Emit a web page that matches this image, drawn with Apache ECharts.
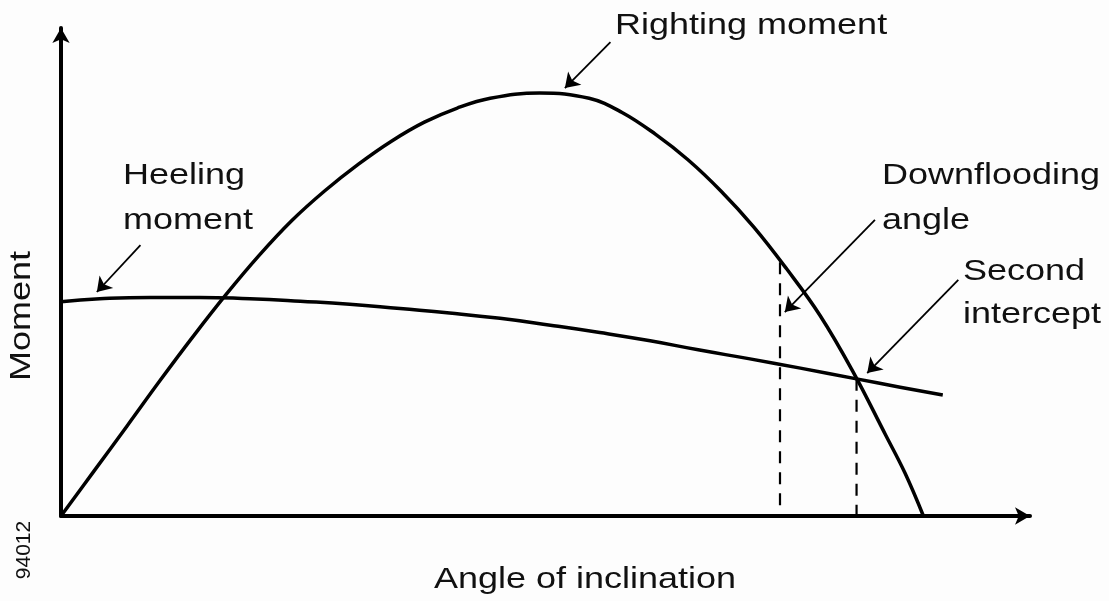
<!DOCTYPE html>
<html>
<head>
<meta charset="utf-8">
<script src="https://cdn.jsdelivr.net/npm/echarts@6/dist/echarts.min.js"></script>
<style>
  html, body { margin: 0; padding: 0; background: #fdfdfd; }
  #main { width: 1109px; height: 601px; }
</style>
</head>
<body>
<div id="main"></div>
<script>
// angle of inclination (x) and moment (y), arbitrary units
var rightingAngle  = [0, 3.4, 6.8, 10.2, 13.6, 17.0, 20.4, 23.8, 27.2, 30.7, 34.1, 37.5, 40.9, 44.3, 49.4, 54.5, 57.9, 61.3, 64.7, 68.1, 71.5, 74.9, 78.3, 81.7, 85.1, 87.1, 89.0];
var rightingMoment = [0, 9.2, 18.4, 27.7, 36.7, 45.3, 53.3, 60.5, 66.6, 72.1, 76.8, 80.7, 83.6, 85.6, 86.7, 85.6, 82.7, 78.3, 73.0, 66.6, 59.2, 50.6, 41.2, 29.7, 16.6, 8.8, 0];

var heelingAngle  = [0, 4.0, 9.2, 14.3, 19.5, 24.7, 29.8, 35.0, 40.1, 45.3, 50.5, 55.6, 60.8, 65.9, 71.1, 76.3, 82.1, 86.6, 91.0];
var heelingMoment = [43.9, 44.5, 44.8, 44.8, 44.5, 44.0, 43.4, 42.5, 41.6, 40.5, 39.1, 37.6, 35.9, 34.0, 32.2, 30.3, 28.1, 26.4, 24.8];

// dashed verticals: [angle, moment where it meets the curve]
var downflooding    = [74.2, 52.0];
var secondIntercept = [82.1, 28.1];

// annotation arrows: [tail, tip] in chart units
var arrows = [
  [[56.7, 97.1], [52.0, 87.7]],   // righting moment
  [[8.2, 55.5], [3.7, 45.9]],     // heeling moment
  [[84.0, 60.7], [74.7, 41.8]],   // downflooding angle
  [[92.6, 48.4], [83.2, 29.3]]    // second intercept
];

function pairs(xs, ys) {
  var out = [];
  for (var i = 0; i < xs.length; i++) out.push([xs[i], ys[i]]);
  return out;
}

var font = 'Liberation Sans, Arial, sans-serif';
function txt(t, x, y, size, align, rot, sx) {
  return {
    type: 'text', x: x, y: y, rotation: rot || 0, scaleX: sx || 1, silent: true,
    style: { text: t, fill: '#111', font: size + 'px ' + font,
             textAlign: align || 'left', textVerticalAlign: 'middle' }
  };
}

var myChart = echarts.init(document.getElementById('main'), null, { renderer: 'canvas' });

var axisCommon = {
  type: 'value', min: 0, max: 100,
  axisLine: { show: true, onZero: true, symbol: ['none', 'arrow'], symbolSize: [13, 15],
              lineStyle: { color: '#000', width: 4 } },
  axisTick: { show: false }, axisLabel: { show: false }, splitLine: { show: false }
};

var option = {
  backgroundColor: '#fdfdfd',
  animation: false,
  grid: { left: 61, right: 79, top: 28, bottom: 85 },
  xAxis: axisCommon,
  yAxis: axisCommon,
  series: [
    {
      name: 'Righting moment', type: 'line', smooth: 0.4, showSymbol: false, silent: true,
      data: pairs(rightingAngle, rightingMoment),
      lineStyle: { color: '#000', width: 3.5 }
    },
    {
      name: 'Heeling moment', type: 'line', smooth: true, showSymbol: false, silent: true,
      data: pairs(heelingAngle, heelingMoment),
      lineStyle: { color: '#000', width: 3.5 },
      markLine: {
        silent: true, symbol: ['none', 'arrow'], symbolSize: 14,
        label: { show: false },
        lineStyle: { type: 'solid', color: '#000', width: 1.8 },
        data: arrows.map(function (a) { return [{ coord: a[0] }, { coord: a[1] }]; })
      }
    },
    {
      type: 'line', showSymbol: false, silent: true,
      data: [downflooding, [downflooding[0], 0]],
      lineStyle: { color: '#000', width: 2.2, type: [12, 9] }
    },
    {
      type: 'line', showSymbol: false, silent: true,
      data: [secondIntercept, [secondIntercept[0], 0]],
      lineStyle: { color: '#000', width: 2.2, type: [12, 9] }
    }
  ],
  graphic: [
    txt('Righting moment', 615, 26, 30, 'left', 0, 1.2),
    txt('Heeling', 123, 176, 30, 'left', 0, 1.2),
    txt('moment', 123, 221, 30, 'left', 0, 1.2),
    txt('Downflooding', 882, 176, 30, 'left', 0, 1.2),
    txt('angle', 882, 221, 30, 'left', 0, 1.2),
    txt('Second', 963, 272, 30, 'left', 0, 1.2),
    txt('intercept', 963, 315, 30, 'left', 0, 1.2),
    txt('Angle of inclination', 585, 580, 30, 'center', 0, 1.2),
    txt('Moment', 22, 316, 30, 'center', Math.PI / 2, 1.2),
    txt('94012', 24, 550, 21, 'center', Math.PI / 2)
  ]
};

myChart.setOption(option);
</script>
</body>
</html>
